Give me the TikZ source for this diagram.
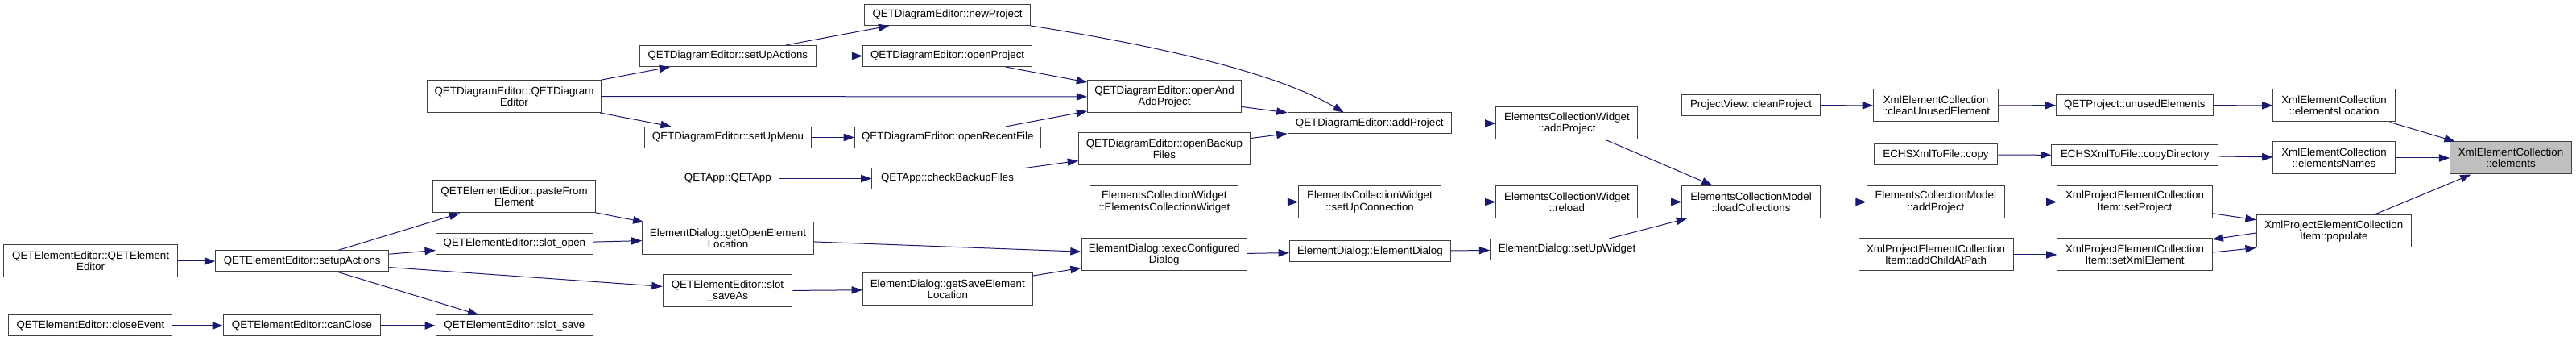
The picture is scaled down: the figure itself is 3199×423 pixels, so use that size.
\documentclass[tikz,border=0pt]{standalone}
\usepackage{fontspec}
\setmainfont{Liberation Sans}
\usepackage{tikz}
\usetikzlibrary{arrows.meta}
\usepackage{xcolor}
\definecolor{cEdge}{RGB}{25,25,112}
\definecolor{cBorder}{RGB}{64,64,64}
\definecolor{cSelected}{RGB}{191,191,191}
\tikzset{
  basebox/.style={rectangle, draw=cBorder, fill=white, line width=0.75pt,
                  align=center, inner sep=0pt,
                  font=\fontsize{10}{10.8}\selectfont},
  fnnode/.style={basebox, minimum height=19.5pt, minimum width=#1},
  fnnodetwo/.style={basebox, minimum height=30pt, minimum width=#1},
  selnode/.style={fnnodetwo=#1, fill=cSelected},
  arrow/.style={-{Triangle[length=10pt, width=7pt]}, color=cEdge,
                line width=0.75pt}
}

\begin{document}
\begin{tikzpicture}[x=0.75pt, y=-0.75pt]
  \useasboundingbox (0,0) rectangle (3199,423);

  % QETElementEditor callers
  \node[fnnodetwo=161.7pt] (qeeCtor) at (112.6,324) {QETElementEditor::QETElement\\Editor};
  \node[fnnode=152.3pt] (qeeClose) at (112.4,404) {QETElementEditor::closeEvent};
  \node[fnnode=161.3pt] (qeeSetup) at (375.2,324) {QETElementEditor::setupActions};
  \node[fnnode=146.3pt] (qeeCanClose) at (375,404) {QETElementEditor::canClose};

  % Editors and slots
  \node[fnnodetwo=162pt] (qdeCtor) at (638.5,119.5) {QETDiagramEditor::QETDiagram\\Editor};
  \node[fnnodetwo=151pt] (qeePaste) at (638.6,244) {QETElementEditor::pasteFrom\\Element};
  \node[fnnode=146.3pt] (qeeOpen) at (638.9,302.5) {QETElementEditor::slot\_open};
  \node[fnnode=146.3pt] (qeeSave) at (638.9,404) {QETElementEditor::slot\_save};

  \node[fnnode=164.3pt] (qdeActions) at (903.8,69.5) {QETDiagramEditor::setUpActions};
  \node[fnnode=155.3pt] (qdeMenu) at (904,170.5) {QETDiagramEditor::setUpMenu};
  \node[fnnode=96pt] (appCtor) at (903.8,221.5) {QETApp::QETApp};
  \node[fnnodetwo=159.4pt] (dlgGetOpen) at (904,296) {ElementDialog::getOpenElement\\Location};
  \node[fnnodetwo=120.5pt] (qeeSaveAs) at (903.5,361) {QETElementEditor::slot\\\_saveAs};

  \node[fnnode=154.3pt] (qdeNew) at (1176.5,18.5) {QETDiagramEditor::newProject};
  \node[fnnode=157.2pt] (qdeOpen) at (1176.6,69.5) {QETDiagramEditor::openProject};
  \node[fnnode=173pt] (qdeRecent) at (1176.8,170.5) {QETDiagramEditor::openRecentFile};
  \node[fnnode=140.3pt] (appCheck) at (1176.5,221.5) {QETApp::checkBackupFiles};
  \node[fnnodetwo=158pt] (dlgGetSave) at (1176.8,359) {ElementDialog::getSaveElement\\Location};

  \node[fnnodetwo=143pt] (qdeOpenAdd) at (1446,120) {QETDiagramEditor::openAnd\\AddProject};
  \node[fnnodetwo=159.4pt] (qdeBackup) at (1445.9,185) {QETDiagramEditor::openBackup\\Files};
  \node[fnnodetwo=138.2pt] (ecwCtor) at (1445.8,250.5) {ElementsCollectionWidget\\::ElementsCollectionWidget};
  \node[fnnodetwo=153.8pt] (dlgExec) at (1445.7,316) {ElementDialog::execConfigured\\Dialog};

  % Collection widget and dialog
  \node[fnnode=152.6pt] (qdeAdd) at (1700.8,153) {QETDiagramEditor::addProject};
  \node[fnnodetwo=132.3pt] (ecwSetup) at (1701,250.5) {ElementsCollectionWidget\\::setUpConnection};
  \node[fnnode=150pt] (dlgCtor) at (1701.4,312) {ElementDialog::ElementDialog};

  \node[fnnodetwo=132pt] (ecwAdd) at (1945.9,153) {ElementsCollectionWidget\\::addProject};
  \node[fnnodetwo=132pt] (ecwReload) at (1945.9,250.5) {ElementsCollectionWidget\\::reload};
  \node[fnnode=143pt] (dlgWidget) at (1946,309.5) {ElementDialog::setUpWidget};

  \node[fnnode=128.3pt] (pvClean) at (2174.5,130.5) {ProjectView::cleanProject};
  \node[fnnodetwo=128.3pt] (ecmLoad) at (2174.5,250.5) {ElementsCollectionModel\\::loadCollections};

  % Xml collection side
  \node[fnnodetwo=116.3pt] (xecClean) at (2404,131) {XmlElementCollection\\::cleanUnusedElement};
  \node[fnnode=115.2pt] (echsCopy) at (2404,192) {ECHSXmlToFile::copy};
  \node[fnnodetwo=128.3pt] (ecmAdd) at (2403.8,250.5) {ElementsCollectionModel\\::addProject};
  \node[fnnodetwo=144pt] (xpecAddChild) at (2404,316) {XmlProjectElementCollection\\Item::addChildAtPath};

  \node[fnnode=145.8pt] (prjUnused) at (2650.8,130.5) {QETProject::unusedElements};
  \node[fnnode=155.1pt] (echsCopyDir) at (2651.3,192.5) {ECHSXmlToFile::copyDirectory};
  \node[fnnodetwo=144.2pt] (xpecSetProject) at (2651,250.5) {XmlProjectElementCollection\\Item::setProject};
  \node[fnnodetwo=144.2pt] (xpecSetXml) at (2651,316) {XmlProjectElementCollection\\Item::setXmlElement};

  \node[fnnodetwo=113.3pt] (xecLocation) at (2898.5,131) {XmlElementCollection\\::elementsLocation};
  \node[fnnodetwo=113.3pt] (xecNames) at (2898.5,196) {XmlElementCollection\\::elementsNames};
  \node[fnnodetwo=144pt] (xpecPopulate) at (2898.3,287) {XmlProjectElementCollection\\Item::populate};

  \node[selnode=113pt] (xecElements) at (3118,196) {XmlElementCollection\\::elements};

  % Calls
  \foreach \a/\b in {qeeCtor/qeeSetup, qeeClose/qeeCanClose, qeeSetup/qeePaste,
      qeeSetup/qeeOpen, qeeSetup/qeeSaveAs, qeeSetup/qeeSave, qeeCanClose/qeeSave,
      qdeCtor/qdeActions, qdeCtor/qdeOpenAdd, qdeCtor/qdeMenu, qdeActions/qdeNew,
      qdeActions/qdeOpen, qdeMenu/qdeRecent, appCtor/appCheck, qeePaste/dlgGetOpen,
      qeeOpen/dlgGetOpen, dlgGetOpen/dlgExec, qeeSaveAs/dlgGetSave, dlgGetSave/dlgExec,
      qdeOpen/qdeOpenAdd, qdeRecent/qdeOpenAdd, appCheck/qdeBackup, qdeOpenAdd/qdeAdd,
      qdeBackup/qdeAdd, ecwCtor/ecwSetup, dlgExec/dlgCtor, qdeAdd/ecwAdd,
      ecwSetup/ecwReload, dlgCtor/dlgWidget, ecwAdd/ecmLoad, ecwReload/ecmLoad,
      dlgWidget/ecmLoad, pvClean/xecClean, ecmLoad/ecmAdd, xecClean/prjUnused,
      echsCopy/echsCopyDir, ecmAdd/xpecSetProject, xpecAddChild/xpecSetXml,
      prjUnused/xecLocation, echsCopyDir/xecNames, xpecSetProject/xpecPopulate,
      xecLocation/xecElements, xecNames/xecElements, xpecPopulate/xecElements}
    \draw[arrow] (\a) -- (\b);

  % newProject curves down to addProject
  \draw[arrow] (qdeNew.south east) .. controls +(141,22) and +(-88,-52) .. ([xshift=-24pt]qdeAdd.north);

  % populate <-> setXmlElement
  \draw[arrow] ([yshift=-1.5pt]xpecPopulate.west) -- ([yshift=-1pt]xpecSetXml.north east);
  \draw[arrow] ([yshift=2.25pt]xpecSetXml.east) -- (xpecPopulate.south west);
\end{tikzpicture}
\end{document}
